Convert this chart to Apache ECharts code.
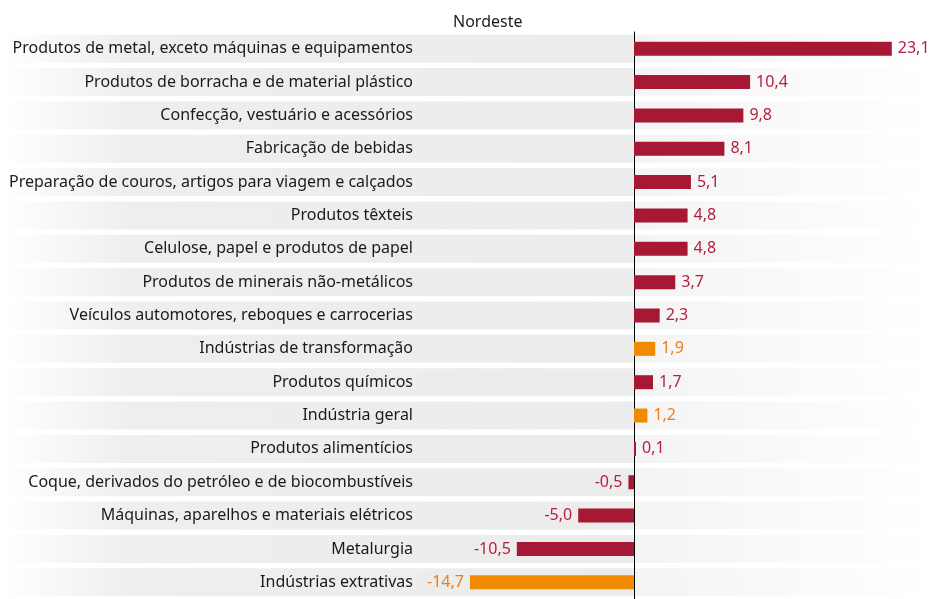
<html>
  <head>
    <meta charset="utf-8">
    <title>Nordeste</title>
    <script src="https://cdn.jsdelivr.net/npm/echarts@6/dist/echarts.min.js"></script>
    <style>
      html, body { margin: 0; padding: 0; background: #fff; }
      #chart { width: 936px; height: 599px; }
    </style>
  </head>
  <body>
    <div id="chart"></div>
    <script>
      // dados
      const categories = [
        'Produtos de metal, exceto máquinas e equipamentos',
        'Produtos de borracha e de material plástico',
        'Confecção, vestuário e acessórios',
        'Fabricação de bebidas',
        'Preparação de couros, artigos para viagem e calçados',
        'Produtos têxteis',
        'Celulose, papel e produtos de papel',
        'Produtos de minerais não-metálicos',
        'Veículos automotores, reboques e carrocerias',
        'Indústrias de transformação',
        'Produtos químicos',
        'Indústria geral',
        'Produtos alimentícios',
        'Coque, derivados do petróleo e de biocombustíveis',
        'Máquinas, aparelhos e materiais elétricos',
        'Metalurgia',
        'Indústrias extrativas'
      ]
      const values = [23.1, 10.4, 9.8, 8.1, 5.1, 4.8, 4.8, 3.7, 2.3, 1.9, 1.7, 1.2, 0.1, -0.5, -5.0, -10.5, -14.7]
      const highlighted = ['Indústrias de transformação', 'Indústria geral', 'Indústrias extrativas']

      const RED = '#a71834'
      const ORANGE = '#f08a00'
      const FONT = 'Noto Sans'

      let chart = echarts.init(document.getElementById('chart'))

      // barras com cor e posição do rótulo
      let barData = values.map((v, i) => {
        let hl = highlighted.includes(categories[i])
        return {
          value: v,
          itemStyle: { color: hl ? ORANGE : RED },
          label: {
            position: v < 0 ? 'left' : 'right',
            color: hl ? '#ee7d1a' : '#b31f3e'
          }
        }
      })

      chart.setOption({
        animation: false,
        title: {
          text: 'Nordeste',
          left: 448,
          top: 9,
          textStyle: { fontFamily: FONT, fontSize: 16, fontWeight: 'normal', color: '#1a1a1a' }
        },
        grid: [
          { left: 0, right: 0, top: 32, bottom: -5 },
          { left: 421, right: 0, top: 32, bottom: -5 }
        ],
        xAxis: [
          { type: 'value', gridIndex: 0, min: -56.81, max: 27.06, show: false, splitLine: { show: false } },
          { type: 'value', gridIndex: 1, show: false, splitLine: { show: false } }
        ],
        yAxis: [
          {
            // linha do zero
            type: 'category',
            gridIndex: 0,
            data: categories,
            inverse: true,
            z: 10,
            axisLine: { onZero: true, lineStyle: { color: '#000', width: 1 } },
            axisTick: { show: false },
            axisLabel: { show: false }
          },
          {
            // rótulos das categorias
            type: 'category',
            gridIndex: 1,
            data: categories,
            inverse: true,
            position: 'left',
            z: 10,
            axisLine: { show: false, onZero: false },
            axisTick: { show: false },
            axisLabel: { interval: 0, margin: 8, fontFamily: FONT, fontSize: 16, color: '#1a1a1a' }
          },
          {
            // faixas de fundo
            type: 'category',
            gridIndex: 0,
            data: categories,
            inverse: true,
            show: false
          }
        ],
        series: [
          {
            type: 'bar',
            xAxisIndex: 0,
            yAxisIndex: 2,
            barWidth: 28,
            data: values.map(() => 0),
            itemStyle: { color: 'transparent' },
            showBackground: true,
            backgroundStyle: {
              color: new echarts.graphic.LinearGradient(0, 0, 1, 0, [
                { offset: 0, color: '#ffffff' },
                { offset: 0.14, color: '#eeeeee' },
                { offset: 0.676, color: '#ececec' },
                { offset: 0.678, color: '#f4f4f4' },
                { offset: 1, color: '#ffffff' }
              ])
            },
            silent: true,
            z: 1
          },
          {
            type: 'bar',
            xAxisIndex: 0,
            yAxisIndex: 0,
            barWidth: 14,
            barMinHeight: 2,
            data: barData,
            label: {
              show: true,
              distance: 6,
              fontFamily: FONT,
              fontSize: 16,
              formatter: p => p.value.toFixed(1).replace('.', ',')
            },
            z: 11
          }
        ]
      })
    </script>
  </body>
</html>
